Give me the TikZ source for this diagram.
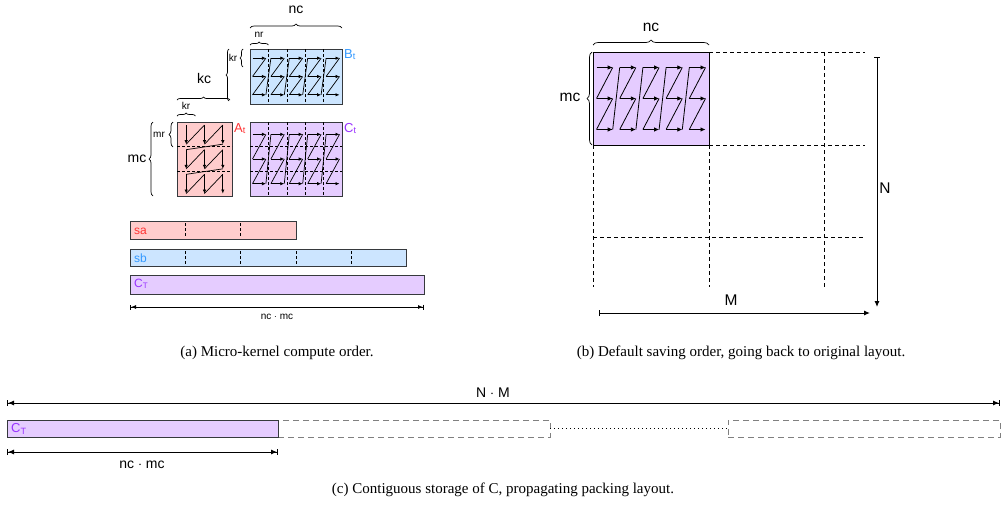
\documentclass[tikz,border=0pt]{standalone}
\usepackage{fontspec}
\setmainfont{Liberation Sans}
\newfontfamily\capfont{Liberation Serif}
\usetikzlibrary{arrows.meta,decorations.pathreplacing,positioning}

\definecolor{redfill}{HTML}{FFCCCC}
\definecolor{redtext}{HTML}{FF3333}
\definecolor{bluefill}{HTML}{CCE5FF}
\definecolor{bluetext}{HTML}{3399FF}
\definecolor{purplefill}{HTML}{E5CCFF}
\definecolor{purpletext}{HTML}{9933FF}
\definecolor{edge}{HTML}{36393D}

\tikzset{
  block/.style={draw=edge, line width=0.9pt, inner sep=0pt, outer sep=0pt, anchor=north west},
  ghost/.style={draw=gray, dash pattern=on 6pt off 4pt, line width=0.9pt, inner sep=0pt, outer sep=0pt, anchor=north west},
  bracedec/.style={decorate, decoration={brace, amplitude=4pt}, line width=0.7pt},
  celldash/.style={dash pattern=on 2.5pt off 2.5pt, line width=0.6pt},
  gridline/.style={dash pattern=on 4pt off 3pt, line width=0.8pt},
  zarrow/.style={-{Latex[length=4pt,width=3.5pt]}, line width=0.7pt},
  zline/.style={line width=0.7pt},
  dimarrow/.style={{Bar[width=6pt]Latex[length=6pt,width=5pt]}-{Latex[length=6pt,width=5pt]Bar[width=6pt]}, line width=1pt},
  lbl/.style={inner sep=0pt, font=\fontsize{14}{16}\selectfont},
  biglbl/.style={inner sep=0pt, font=\fontsize{15.5}{18}\selectfont},
  small/.style={inner sep=0pt, font=\fontsize{10}{12}\selectfont},
  caption/.style={inner sep=0pt, font=\capfont\fontsize{15}{17}\selectfont},
}

% 5 columns x 3 rows of left-to-right arrows
\newcommand{\zigblock}[5]{%
  \foreach \i in {0,...,4} {
    \foreach \j in {0,1,2}
      \draw[zarrow] ({#1+#3*\i+#5},{#2+#4*(\j+0.5)}) -- ({#1+#3*(\i+1)-#5},{#2+#4*(\j+0.5)});
    \foreach \j in {0,1}
      \draw[zline] ({#1+#3*(\i+1)-#5},{#2+#4*(\j+0.5)}) -- ({#1+#3*\i+#5},{#2+#4*(\j+1.5)});
  }
  \foreach \i in {1,...,4}
    \draw[zline] ({#1+#3*\i-#5},{#2+#4*2.5}) -- ({#1+#3*\i+#5},{#2+#4*0.5});
}

\begin{document}
\begin{tikzpicture}[x=1pt, y=-1pt]
    \useasboundingbox (0,0) rectangle (1007,509);

    % (a) tiles
    \node[block, fill=bluefill, minimum width=92pt, minimum height=55pt] (Bt) at (250,49) {};
    \node[block, fill=redfill, minimum width=55pt, minimum height=74pt] (At) at (177,122) {};
    \node[block, fill=purplefill, minimum width=92pt, minimum height=74pt] (Ct) at (250,122) {};

    \foreach \k in {1,...,4} {
        \draw[celldash] ({250+18.4*\k},49) -- ({250+18.4*\k},104);
        \draw[celldash] ({250+18.4*\k},122) -- ({250+18.4*\k},196);
    }
    \foreach \k in {1,2} {
        \draw[celldash] (250,{122+24.67*\k}) -- (342,{122+24.67*\k});
        \draw[celldash] (177,{122+24.67*\k}) -- (232,{122+24.67*\k});
    }

    \zigblock{250}{49}{18.4}{18.33}{2.5}
    \zigblock{250}{122}{18.4}{24.67}{2.5}

    % A_t goes down the columns
    \foreach \p in {0,1,2} {
        \foreach \c in {0,1,2}
            \draw[zarrow] ({177+18.33*(\c+0.5)},{122+24.67*\p+3}) -- ({177+18.33*(\c+0.5)},{122+24.67*(\p+1)-2.5});
        \foreach \c in {0,1}
            \draw[zline] ({177+18.33*(\c+0.5)},{122+24.67*(\p+1)-2.5}) -- ({177+18.33*(\c+1.5)},{122+24.67*\p+3});
    }
    \foreach \p in {1,2}
        \draw[zline] ({177+18.33*2.5},{122+24.67*\p-2.5}) -- ({177+18.33*0.5},{122+24.67*\p+3});

    \node[inner sep=0pt, anchor=base west, text=bluetext, font=\fontsize{13}{15}\selectfont] (BtLabel) at (344,58) {B\textsubscript{t}};
    \node[inner sep=0pt, anchor=base west, text=redtext, font=\fontsize{13}{15}\selectfont] (AtLabel) at (234,132) {A\textsubscript{t}};
    \node[inner sep=0pt, anchor=base west, text=purpletext, font=\fontsize{13}{15}\selectfont] (CtLabel) at (344,132) {C\textsubscript{t}};

    % (a) braces
    \draw[bracedec] (250,28) -- (342,28);
    \node[lbl] (ncA) at (296,10) {nc};
    \draw[bracedec, decoration={amplitude=3pt}] (250,45) -- (268.4,45);
    \node[small] (nrB) at (259,35) {nr};
    \draw[bracedec, decoration={amplitude=3pt}] (243,67) -- (243,49);
    \node[small] (krB) at (233,58) {kr};
    \draw[bracedec, decoration={amplitude=3pt}] (229,101) -- (229,49);
    \draw[bracedec, decoration={amplitude=3pt}] (177,100) -- (230,100);
    \node[lbl] (kcA) at (204,78) {kc};
    \draw[bracedec, decoration={amplitude=3pt}] (177,116) -- (195.3,116);
    \node[small] (krA) at (186,106) {kr};
    \draw[bracedec] (173,147) -- (173,122);
    \node[small] (mrA) at (159,135) {mr};
    \draw[bracedec] (153,196) -- (153,122);
    \node[lbl] (mcA) at (137,159) {mc};

    % (a) packed buffers
    \node[block, fill=redfill, minimum width=166pt, minimum height=18pt] (sa) at (130,221) {};
    \node[block, fill=bluefill, minimum width=276pt, minimum height=17pt] (sb) at (130,249) {};
    \node[block, fill=purplefill, minimum width=294pt, minimum height=19pt] (CT) at (130,275) {};
    \foreach \k in {1,2}
        \draw[celldash] ({130+55.3*\k},223) -- ({130+55.3*\k},237);
    \foreach \k in {1,...,4}
        \draw[celldash] ({130+55.3*\k},251) -- ({130+55.3*\k},264);
    \node[inner sep=0pt, anchor=base west, text=redtext, font=\fontsize{12}{14}\selectfont] (saLabel) at (134,234) {sa};
    \node[inner sep=0pt, anchor=base west, text=bluetext, font=\fontsize{12}{14}\selectfont] (sbLabel) at (134,262) {sb};
    \node[inner sep=0pt, anchor=base west, text=purpletext, font=\fontsize{12}{14}\selectfont] (CTLabel) at (134,287) {C\textsubscript{T}};
    \coordinate (ncmcL) at (130,307);
    \coordinate (ncmcR) at (424,307);
    \draw[dimarrow, {Bar[width=5pt]Latex[length=5pt,width=4pt]}-{Latex[length=5pt,width=4pt]Bar[width=5pt]}] (ncmcL) -- (ncmcR);
    \node[small] (ncmcA) at (277,317) {nc $\cdot$ mc};

    % (b) saving order
    \draw[gridline] (709,52) -- (865,52);
    \draw[gridline] (709,145) -- (865,145);
    \draw[gridline] (593,237) -- (865,237);
    \draw[gridline] (593,145) -- (593,287);
    \draw[gridline] (709,145) -- (709,287);
    \draw[gridline] (824,52) -- (824,287);
    \node[block, draw=black, fill=purplefill, minimum width=116pt, minimum height=93pt] (Cb) at (593,52) {};
    \begin{scope}[zarrow/.style={-{Latex[length=5pt,width=4.5pt]}, line width=0.8pt}, zline/.style={line width=0.8pt}]
        \zigblock{593}{52}{23.2}{31}{3.5}
    \end{scope}
    \draw[bracedec, decoration={amplitude=5pt}] (593,45) -- (709,45);
    \node[biglbl] (ncB) at (651,27) {nc};
    \draw[bracedec, decoration={amplitude=5pt}] (592,145) -- (592,52);
    \node[biglbl] (mcB) at (570,97) {mc};
    \coordinate (Ntop) at (877,57);
    \coordinate (Nbot) at (877,307);
    \draw[line width=1pt, {Bar[width=6pt]}-{Latex[length=6pt,width=5pt]}] (Ntop) -- (Nbot);
    \node[biglbl] (NB) at (885,188) {N};
    \coordinate (Mleft) at (599,313);
    \coordinate (Mright) at (870,313);
    \draw[line width=1pt, {Bar[width=6pt]}-{Latex[length=6pt,width=5pt]}] (Mleft) -- (Mright);
    \node[biglbl] (MB) at (731,300) {M};

    % (c) contiguous storage
    \coordinate (NMl) at (7,403);
    \coordinate (NMr) at (1000,403);
    \draw[dimarrow] (NMl) -- (NMr);
    \node[lbl] (NM) at (493,393) {N $\cdot$ M};
    \node[ghost, minimum width=272pt, minimum height=17pt] (g1) at (278,420) {};
    \node[ghost, minimum width=272pt, minimum height=17pt] (g2) at (728,420) {};
    \node[block, fill=purplefill, minimum width=271pt, minimum height=17pt] (CTc) at (7,420) {};
    \node[inner sep=0pt, anchor=base west, text=purpletext, font=\fontsize{13}{15}\selectfont] (CTcLabel) at (11,432) {C\textsubscript{T}};
    \draw[line width=1pt, dash pattern=on 1pt off 3pt] (g1.east) -- (g2.west);
    \coordinate (ncmcl) at (7,452);
    \coordinate (ncmcr) at (278,452);
    \draw[dimarrow] (ncmcl) -- (ncmcr);
    \node[lbl] (ncmcC) at (142,465) {nc $\cdot$ mc};

    % captions
    \node[caption] (capA) at (277,353) {(a) Micro-kernel compute order.};
    \node[caption] (capB) at (741,353) {(b) Default saving order, going back to original layout.};
    \node[caption] (capC) at (503,490) {(c) Contiguous storage of C, propagating packing layout.};

\end{tikzpicture}
\end{document}
